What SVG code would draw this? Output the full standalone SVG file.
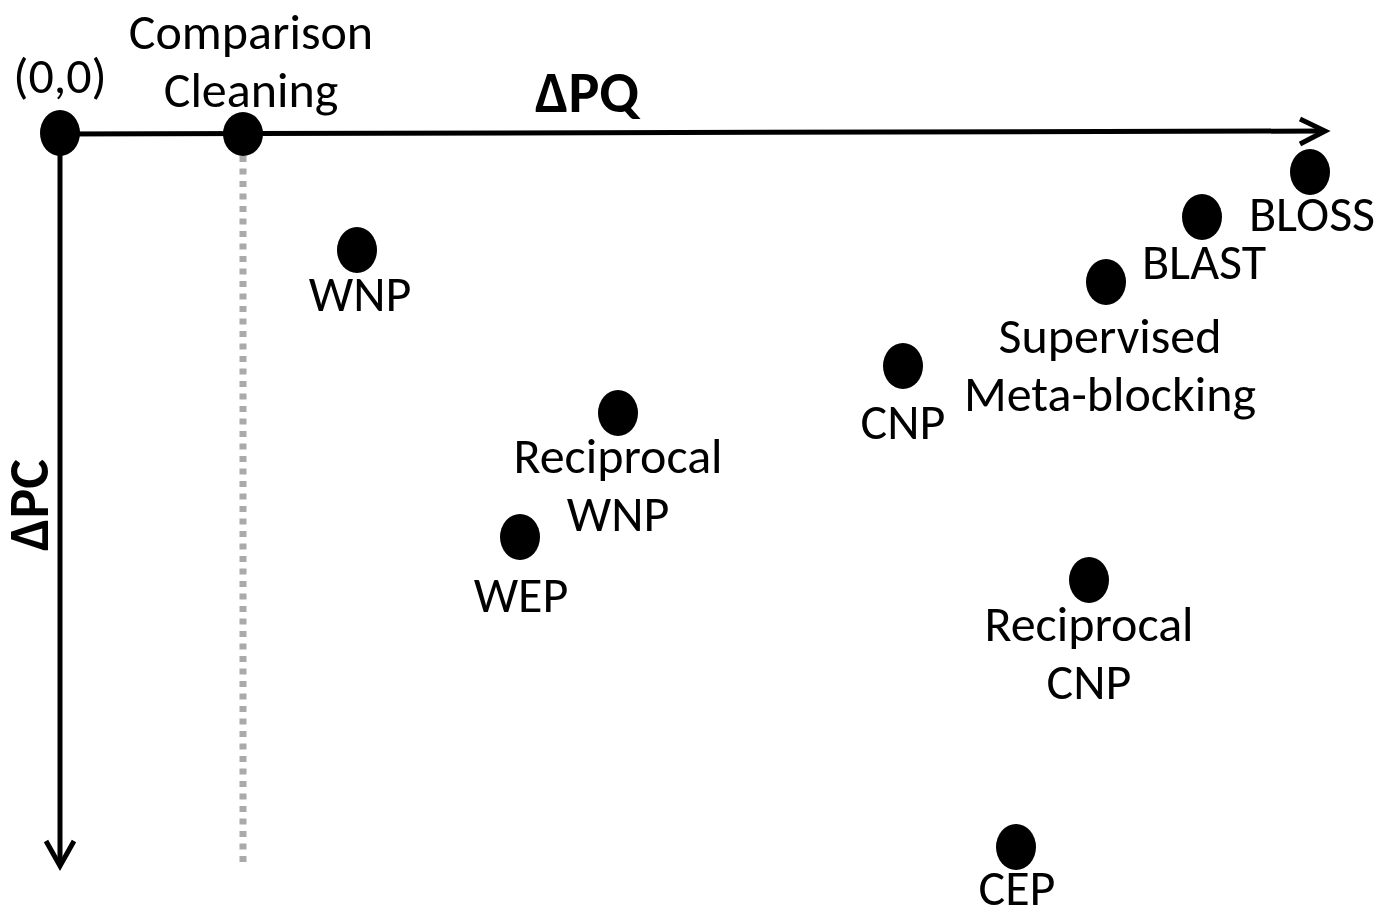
<svg xmlns="http://www.w3.org/2000/svg" width="1380" height="918" viewBox="0 0 1380 918">
<style>
.lbl{font-family:Carlito,"Liberation Sans",Arial,sans-serif;font-size:50px;fill:#000;text-anchor:middle}
.ax{font-family:Carlito,"Liberation Sans",Arial,sans-serif;font-size:58px;font-weight:bold;fill:#000;text-anchor:middle}
.dot{fill:#000}
.axis{stroke:#000;stroke-width:5;fill:none}
</style>
<rect width="1380" height="918" fill="#fff"/>
<g id="connectors">
<line x1="243" y1="156" x2="243" y2="868" stroke="#aaaaaa" stroke-width="7" stroke-dasharray="6 6.5"/>
<line class="axis" x1="60" y1="134" x2="1324" y2="131"/>
<polyline class="axis" points="1300,119 1325,131 1300,144"/>
<line class="axis" x1="60" y1="134" x2="60" y2="865"/>
<polyline class="axis" points="46,841 60,866 74,841"/>
<text class="ax" x="587" y="112">ΔPQ</text>
<text class="ax" style="font-size:56px" transform="translate(48,505) rotate(-90)">ΔPC</text>
</g>
<g id="origin"><ellipse class="dot" cx="60" cy="133" rx="20" ry="23"/><text class="lbl" x="60" y="93">(0,0)</text></g>
<g id="comparison-cleaning"><ellipse class="dot" cx="243" cy="134" rx="20" ry="22"/><text class="lbl" x="251" y="49">Comparison</text><text class="lbl" x="251" y="107">Cleaning</text></g>
<g id="wnp"><ellipse class="dot" cx="357" cy="250" rx="20" ry="23"/><text class="lbl" x="360" y="311">WNP</text></g>
<g id="reciprocal-wnp"><ellipse class="dot" cx="618" cy="413" rx="20" ry="23"/><text class="lbl" x="618" y="473">Reciprocal</text><text class="lbl" x="618" y="531">WNP</text></g>
<g id="wep"><ellipse class="dot" cx="520" cy="537" rx="20" ry="23"/><text class="lbl" x="521" y="612">WEP</text></g>
<g id="cnp"><ellipse class="dot" cx="903" cy="366" rx="20" ry="23"/><text class="lbl" x="903" y="439">CNP</text></g>
<g id="supervised"><ellipse class="dot" cx="1106" cy="282" rx="20" ry="23"/><text class="lbl" x="1110" y="353">Supervised</text><text class="lbl" x="1110" y="411">Meta-blocking</text></g>
<g id="blast"><ellipse class="dot" cx="1202" cy="217" rx="20" ry="23"/><text class="lbl" x="1204" y="279">BLAST</text></g>
<g id="bloss"><ellipse class="dot" cx="1310" cy="172" rx="20" ry="23"/><text class="lbl" x="1312" y="231">BLOSS</text></g>
<g id="reciprocal-cnp"><ellipse class="dot" cx="1089" cy="580" rx="20" ry="23"/><text class="lbl" x="1089" y="641">Reciprocal</text><text class="lbl" x="1089" y="699">CNP</text></g>
<g id="cep"><ellipse class="dot" cx="1016" cy="847" rx="20" ry="23"/><text class="lbl" x="1017" y="905">CEP</text></g>
</svg>
